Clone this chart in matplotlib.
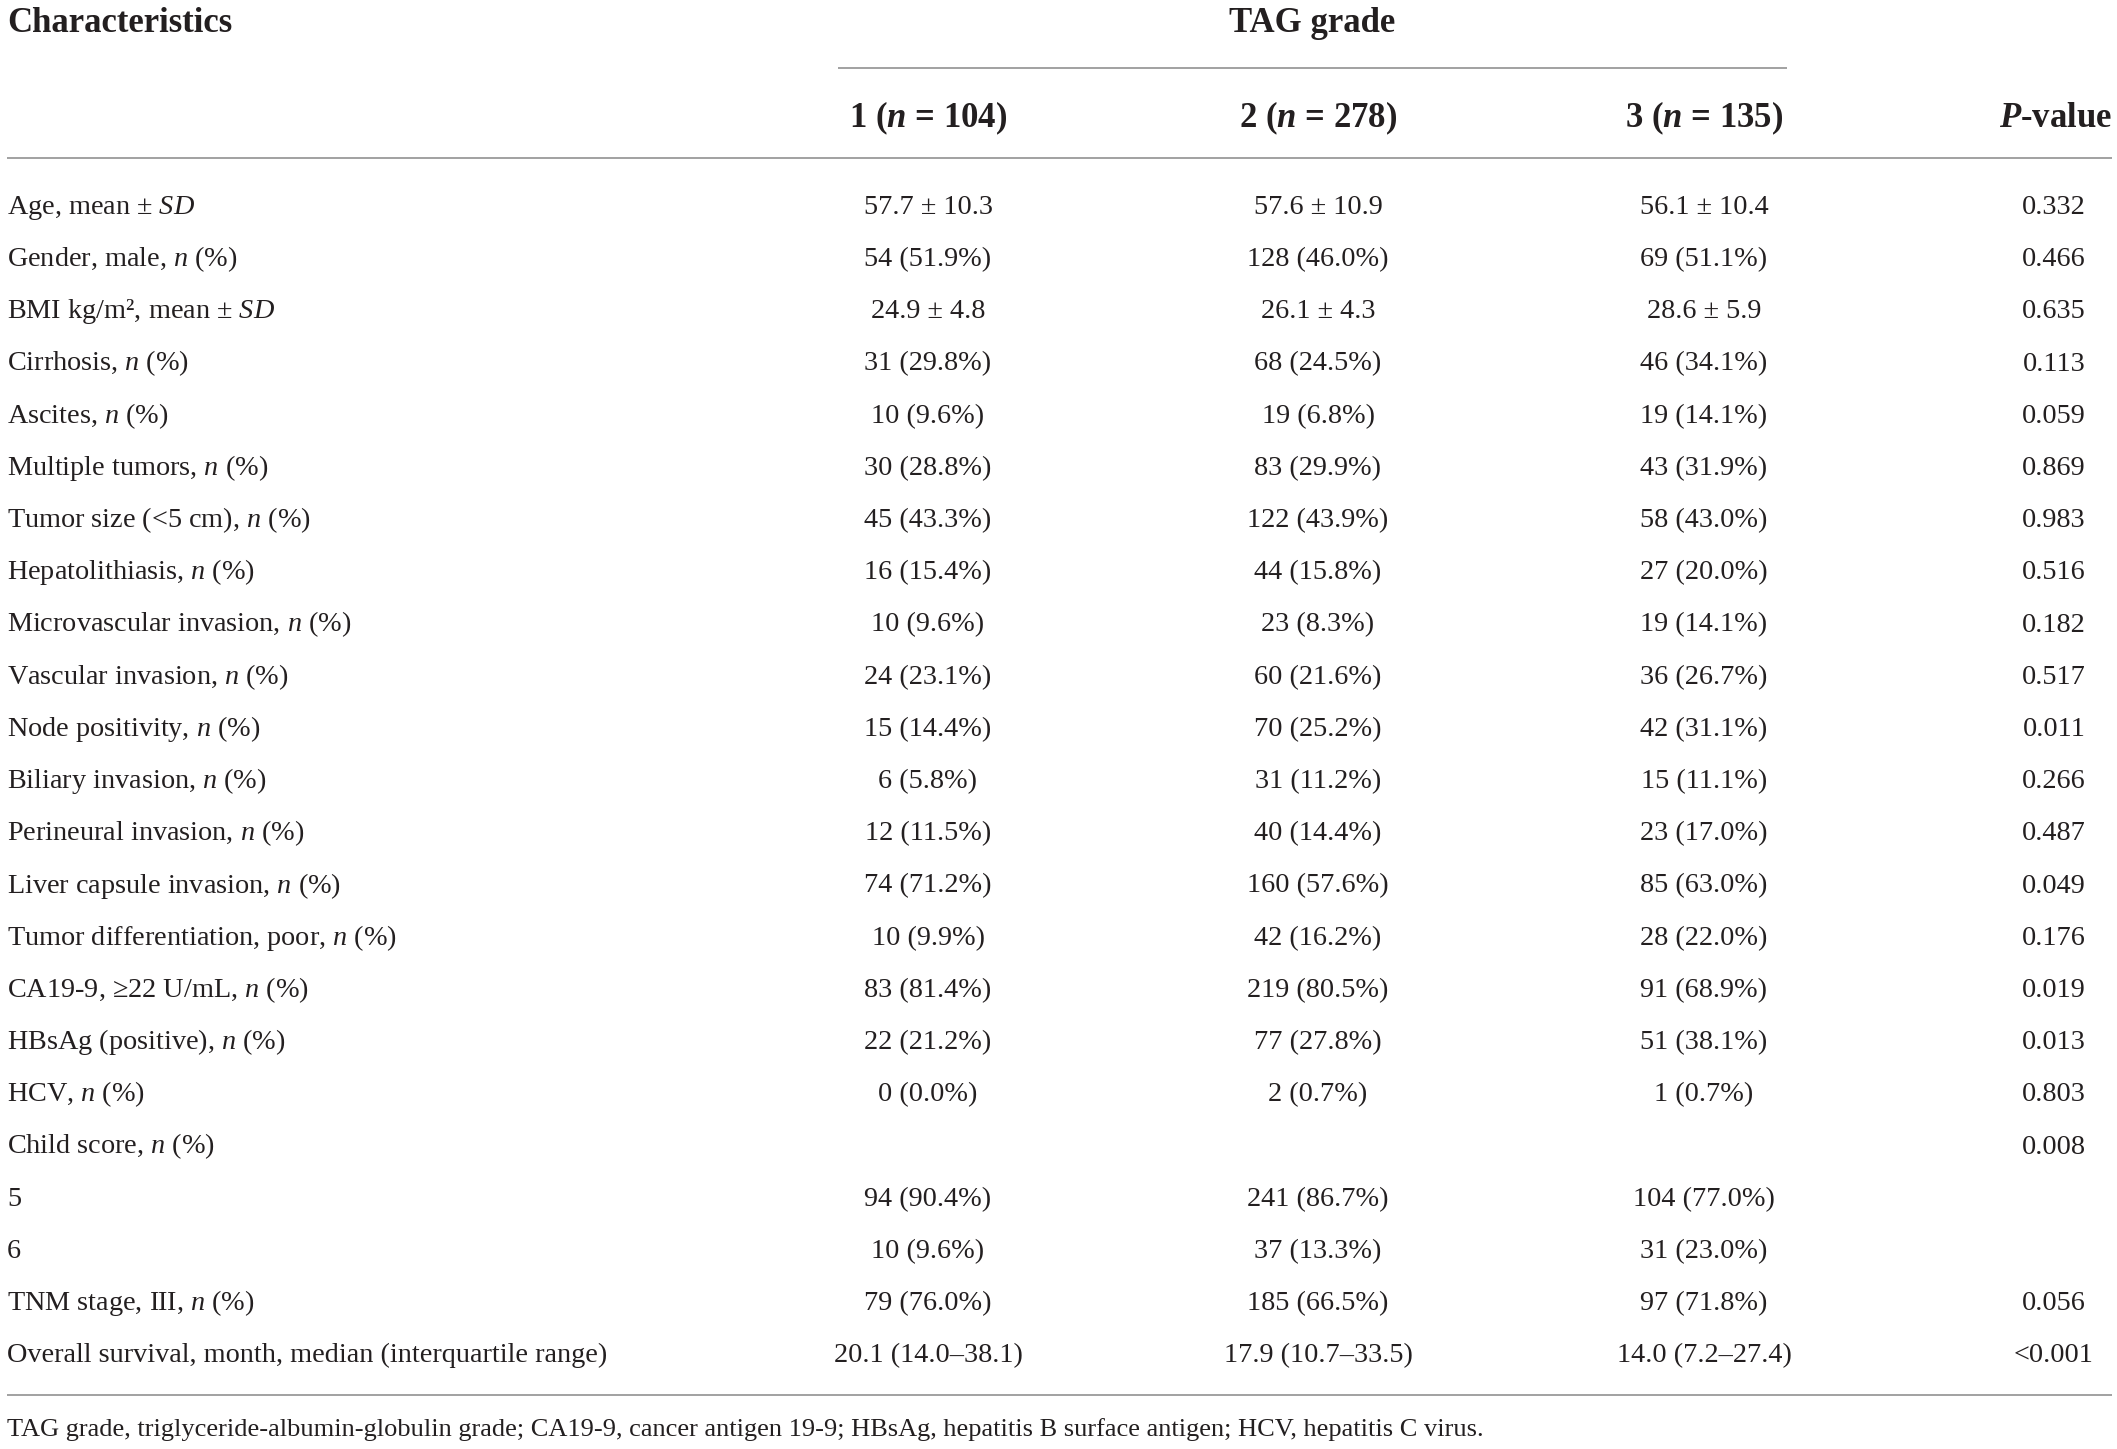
import matplotlib
matplotlib.use("Agg")
import matplotlib.pyplot as plt

plt.rcParams['mathtext.fontset'] = 'custom'
plt.rcParams['mathtext.rm'] = 'Liberation Serif'
plt.rcParams['mathtext.it'] = 'Liberation Serif:italic'
plt.rcParams['mathtext.bf'] = 'Liberation Serif:bold:italic'

# ---------------- data ----------------
title_left = "Characteristics"
group_title = "TAG grade"
col_headers = [r"1 ($\mathbf{n}$ = 104)", r"2 ($\mathbf{n}$ = 278)", r"3 ($\mathbf{n}$ = 135)"]
p_header = r"$\mathbf{P}$-value"

characteristics = [
    r"Age, mean ± $SD$",
    r"Gender, male, $n$ (%)",
    r"BMI kg/m², mean ± $SD$",
    r"Cirrhosis, $n$ (%)",
    r"Ascites, $n$ (%)",
    r"Multiple tumors, $n$ (%)",
    r"Tumor size (<5 cm), $n$ (%)",
    r"Hepatolithiasis, $n$ (%)",
    r"Microvascular invasion, $n$ (%)",
    r"Vascular invasion, $n$ (%)",
    r"Node positivity, $n$ (%)",
    r"Biliary invasion, $n$ (%)",
    r"Perineural invasion, $n$ (%)",
    r"Liver capsule invasion, $n$ (%)",
    r"Tumor differentiation, poor, $n$ (%)",
    r"CA19-9, ≥22 U/mL, $n$ (%)",
    r"HBsAg (positive), $n$ (%)",
    r"HCV, $n$ (%)",
    r"Child score, $n$ (%)",
    "5",
    "6",
    r"TNM stage, III, $n$ (%)",
    "Overall survival, month, median (interquartile range)",
]
grade1 = ["57.7 ± 10.3", "54 (51.9%)", "24.9 ± 4.8", "31 (29.8%)", "10 (9.6%)",
          "30 (28.8%)", "45 (43.3%)", "16 (15.4%)", "10 (9.6%)", "24 (23.1%)",
          "15 (14.4%)", "6 (5.8%)", "12 (11.5%)", "74 (71.2%)", "10 (9.9%)",
          "83 (81.4%)", "22 (21.2%)", "0 (0.0%)", "", "94 (90.4%)", "10 (9.6%)",
          "79 (76.0%)", "20.1 (14.0–38.1)"]
grade2 = ["57.6 ± 10.9", "128 (46.0%)", "26.1 ± 4.3", "68 (24.5%)", "19 (6.8%)",
          "83 (29.9%)", "122 (43.9%)", "44 (15.8%)", "23 (8.3%)", "60 (21.6%)",
          "70 (25.2%)", "31 (11.2%)", "40 (14.4%)", "160 (57.6%)", "42 (16.2%)",
          "219 (80.5%)", "77 (27.8%)", "2 (0.7%)", "", "241 (86.7%)", "37 (13.3%)",
          "185 (66.5%)", "17.9 (10.7–33.5)"]
grade3 = ["56.1 ± 10.4", "69 (51.1%)", "28.6 ± 5.9", "46 (34.1%)", "19 (14.1%)",
          "43 (31.9%)", "58 (43.0%)", "27 (20.0%)", "19 (14.1%)", "36 (26.7%)",
          "42 (31.1%)", "15 (11.1%)", "23 (17.0%)", "85 (63.0%)", "28 (22.0%)",
          "91 (68.9%)", "51 (38.1%)", "1 (0.7%)", "", "104 (77.0%)", "31 (23.0%)",
          "97 (71.8%)", "14.0 (7.2–27.4)"]
p_values = ["0.332", "0.466", "0.635", "0.113", "0.059", "0.869", "0.983", "0.516",
            "0.182", "0.517", "0.011", "0.266", "0.487", "0.049", "0.176", "0.019",
            "0.013", "0.803", "0.008", "", "", "0.056", "<0.001"]
footnote = ("TAG grade, triglyceride-albumin-globulin grade; CA19-9, cancer antigen 19-9; "
            "HBsAg, hepatitis B surface antigen; HCV, hepatitis C virus.")

# ---------------- layout ----------------
W, H = 2117, 1449
DPI = 100
fig = plt.figure(figsize=(W / DPI, H / DPI), dpi=DPI)
ax = fig.add_axes([0, 0, 1, 1])
ax.set_xlim(0, W)
ax.set_ylim(H, 0)
ax.axis('off')

FONT = 'Liberation Serif'
TXT = '#231f20'
LINE = '#9a9a9a'
body_fs = 20.3
head_fs = 25.0
foot_fs = 19.0

x_left = 7
col_x = [928, 1318, 1704]
p_x = 2054
row0 = 214
row_step = 52.2

# header
ax.text(x_left, 32, title_left, fontsize=head_fs, fontweight='bold', family=FONT,
        color=TXT, ha='left', va='baseline')
ax.text((838 + 1787) / 2, 32, group_title, fontsize=head_fs, fontweight='bold', family=FONT,
        color=TXT, ha='center', va='baseline')
ax.hlines(68, 838, 1787, color=LINE, lw=1.3)
for x, h in zip(col_x, col_headers):
    ax.text(x, 127, h, fontsize=head_fs, fontweight='bold', family=FONT, color=TXT,
            ha='center', va='baseline')
ax.text(2112, 127, p_header, fontsize=head_fs, fontweight='bold', family=FONT, color=TXT,
        ha='right', va='baseline')
ax.hlines(158, 7, 2112, color=LINE, lw=1.3)

# body
for i, lab in enumerate(characteristics):
    y = row0 + i * row_step
    ax.text(x_left, y, lab, fontsize=body_fs, family=FONT, color=TXT, ha='left', va='baseline')
    for x, col in zip(col_x, (grade1, grade2, grade3)):
        if col[i]:
            ax.text(x, y, col[i], fontsize=body_fs, family=FONT, color=TXT,
                    ha='center', va='baseline')
    if p_values[i]:
        ax.text(p_x, y, p_values[i], fontsize=body_fs, family=FONT, color=TXT,
                ha='center', va='baseline')

ax.hlines(1395, 7, 2112, color=LINE, lw=1.3)
ax.text(x_left, 1436, footnote, fontsize=foot_fs, family=FONT, color=TXT, ha='left', va='baseline')

fig.savefig('out.png', dpi=DPI, facecolor='white')
